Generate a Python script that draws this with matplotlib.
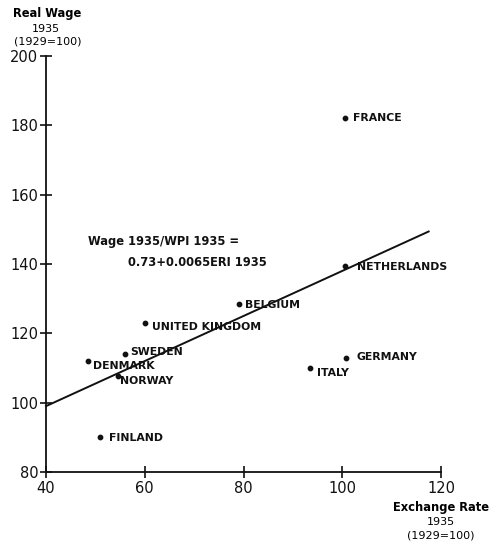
import matplotlib
matplotlib.use("Agg")
import matplotlib.pyplot as plt
import numpy as np

# Exchange rate and real wage indices, 1935 (1929 = 100)
countries = ["FRANCE", "NETHERLANDS", "GERMANY", "ITALY", "BELGIUM",
             "UNITED KINGDOM", "SWEDEN", "DENMARK", "NORWAY", "FINLAND"]
exchange_rate = [100.6, 100.6, 100.8, 93.5, 79.1, 60.1, 56.1, 48.5, 54.6, 51.0]
real_wage = [182.1, 139.4, 112.9, 110.0, 128.5, 123.0, 114.0, 112.0, 107.8, 90.0]

# Fitted relation: Wage/WPI = 0.73 + 0.0065 * ERI  (expressed as index)
intercept = 0.73
slope = 0.0065
fit_x = [40, 117.5]

x_ticks = [40, 60, 80, 100, 120]
y_ticks = [80, 100, 120, 140, 160, 180, 200]

# label offsets in pixels (dx, dy)
offsets = {
    "FRANCE": (8, 0), "NETHERLANDS": (12, -1), "GERMANY": (10, 1),
    "ITALY": (7, -5), "BELGIUM": (6, -1), "UNITED KINGDOM": (7, -4),
    "SWEDEN": (5, 2), "DENMARK": (5, -5), "NORWAY": (2, -5),
    "FINLAND": (9, -1),
}

plt.rcParams["font.family"] = "DejaVu Sans"
fig = plt.figure(figsize=(4.94, 5.46), dpi=100)
ax = fig.add_axes([46 / 494, 1 - 472 / 546, (441 - 46) / 494, (472 - 56) / 546])

ax.set_xlim(40, 120)
ax.set_ylim(80, 200)
ax.spines["top"].set_visible(False)
ax.spines["right"].set_visible(False)
for s in ("left", "bottom"):
    ax.spines[s].set_linewidth(1.3)
    ax.spines[s].set_color("#111111")

ax.set_xticks(x_ticks)
ax.set_yticks(y_ticks)
ax.tick_params(direction="inout", length=9, width=1.2, labelsize=10.5,
               colors="#111111", pad=2)
ax.tick_params(axis="y", pad=1)

fx = np.array(fit_x, dtype=float)
ax.plot(fx, 100 * (intercept + slope * fx), color="#111111", lw=1.4,
        clip_on=False)

ax.scatter(exchange_rate, real_wage, s=10, color="#111111", zorder=3,
           clip_on=False)
for name, xv, yv in zip(countries, exchange_rate, real_wage):
    dx, dy = offsets[name]
    ax.annotate(name, (xv, yv), xytext=(dx, dy), textcoords="offset pixels",
                ha="left", va="center", fontsize=7.8, fontweight="bold",
                color="#111111")

ax.text(88 / 494, 1 - 242 / 546, "Wage 1935/WPI 1935 =",
        transform=fig.transFigure, fontsize=8.3, fontweight="bold",
        ha="left", va="center", color="#111111")
ax.text(128 / 494, 1 - 262 / 546, "0.73+0.0065ERI 1935",
        transform=fig.transFigure, fontsize=8.3, fontweight="bold",
        ha="left", va="center", color="#111111")

fig.text(47 / 494, 1 - 14 / 546, "Real Wage", fontsize=8.3,
         fontweight="bold", ha="center", va="center")
fig.text(46 / 494, 1 - 29 / 546, "1935", fontsize=8, ha="center", va="center")
fig.text(48 / 494, 1 - 42 / 546, "(1929=100)", fontsize=8,
         ha="center", va="center")

fig.text(441 / 494, 1 - 507 / 546, "Exchange Rate", fontsize=8.3,
         fontweight="bold", ha="center", va="center")
fig.text(441 / 494, 1 - 522 / 546, "1935", fontsize=8, ha="center",
         va="center")
fig.text(441 / 494, 1 - 536 / 546, "(1929=100)", fontsize=8,
         ha="center", va="center")

fig.savefig("out.png", dpi=100)
